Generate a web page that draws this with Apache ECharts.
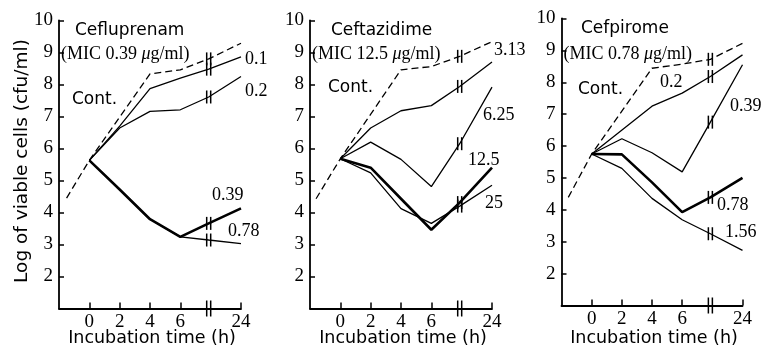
<!DOCTYPE html>
<html>
<head>
<meta charset="utf-8">
<script src="https://cdn.jsdelivr.net/npm/echarts@6/dist/echarts.min.js"></script>
<style>
  html, body { margin: 0; background: #fff; }
  #chart { width: 768px; height: 350px; }
</style>
</head>
<body>
<div id="chart"></div>
<script>
// compressed time axis: 0, 2, 4, 6 h, the axis break, 24 h
const xPos = [0, 2, 4, 6, 7.87, 10];
const tickPos = [0, 2, 4, 6, 10];
const tickText = ['0', '2', '4', '6', '24'];
const breakX = 7.87;

const drugs = ['Cefluprenam', 'Ceftazidime', 'Cefpirome'];
const mics = ['0.39', '12.5', '0.78'];

// control (dashed) curves, first point is before time 0
const contStart = [[-1.5, 4.45], [-1.6, 4.43], [-1.55, 4.39]];
const cefluCont = [5.63, null, 8.33, 8.46, 8.8, 9.29];
const ceftaCont = [5.68, null, 8.46, 8.56, 8.88, 9.34];
const cefpiCont = [5.75, null, 8.44, 8.57, 8.72, 9.22];

// drug concentrations (µg/ml) and log cfu at 0,2,4,6,break,24 h
const cefluConc = ['0.1', '0.2', '0.39', '0.78'];
const cefluVals = [
  [5.63, 6.7, 7.87, 8.2, 8.48, 8.86],
  [5.63, 6.64, 7.16, 7.21, 7.61, 8.25],
  [5.63, 4.72, 3.79, 3.24, 3.66, 4.13],
  [5.63, 4.72, 3.79, 3.24, 3.14, 3.03]
];
const ceftaConc = ['3.13', '6.25', '12.5', '25'];
const ceftaVals = [
  [5.68, 6.64, 7.18, 7.34, 7.94, 8.7],
  [5.68, 6.2, 5.66, 4.81, 6.15, 7.92],
  [5.68, 5.4, 4.43, 3.46, 4.31, 5.4],
  [5.68, 5.24, 4.12, 3.66, 4.2, 4.85]
];
const cefpiConc = ['0.2', '0.39', '0.78', '1.56'];
const cefpiVals = [
  [5.75, null, 7.25, 7.66, 8.18, 8.86],
  [5.75, 6.23, 5.79, 5.19, 6.75, 8.55],
  [5.75, 5.74, 4.86, 3.93, 4.39, 5.0],
  [5.75, 5.3, 4.36, 3.69, 3.25, 2.73]
];
// the concentration drawn with a heavy line in each panel
const thickConc = ['0.39', '12.5', '0.78'];

const panels = [
  { cont: cefluCont, conc: cefluConc, vals: cefluVals },
  { cont: ceftaCont, conc: ceftaConc, vals: ceftaVals },
  { cont: cefpiCont, conc: cefpiConc, vals: cefpiVals }
];

const grids = [
  { left: 59, top: 20.5, width: 182, height: 288 },
  { left: 310, top: 20.5, width: 182, height: 288 },
  { left: 561.5, top: 18.5, width: 181, height: 287 }
];

// where the concentration / Cont. labels sit (px)
const labelPos = [
  [[245, 59], [245, 91], [212, 195], [228, 231], [72, 100]],
  [[494, 50], [483, 115], [468, 160], [485, 203], [328, 88]],
  [[660, 82], [730, 106], [717, 205], [725, 232], [578, 90]]
];

const serif = '"Liberation Serif", serif';
const sans = '"DejaVu Sans", sans-serif';

function toPoints(vals) {
  const pts = [];
  vals.forEach((v, i) => { if (v != null) pts.push([xPos[i], v]); });
  return pts;
}

function breakSeries(gi, points, half) {
  return {
    type: 'custom',
    xAxisIndex: gi,
    yAxisIndex: gi,
    clip: false,
    z: 5,
    silent: true,
    data: points,
    renderItem: (params, api) => {
      const p = api.coord([api.value(0), api.value(1)]);
      return {
        type: 'group',
        children: [-2, 2].map((dx) => ({
          type: 'line',
          shape: { x1: p[0] + dx, y1: p[1] - half, x2: p[0] + dx, y2: p[1] + half },
          style: { stroke: '#000', lineWidth: 1.5 }
        }))
      };
    }
  };
}

const series = [];
const graphic = [];
panels.forEach((pn, gi) => {
  series.push({
    type: 'line', xAxisIndex: gi, yAxisIndex: gi,
    data: [contStart[gi]].concat(toPoints(pn.cont)),
    symbol: 'none', silent: true,
    lineStyle: { color: '#000', width: 1.3, type: [7, 4] }
  });
  pn.vals.forEach((vals, k) => {
    const heavy = pn.conc[k] === thickConc[gi];
    series.push({
      type: 'line', xAxisIndex: gi, yAxisIndex: gi,
      data: toPoints(vals),
      symbol: 'none', silent: true,
      z: heavy ? 3 : 2,
      lineStyle: { color: '#000', width: heavy ? 2.6 : 1.3 }
    });
  });
  // break marks on every curve and on the time axis
  const onCurves = [[breakX, pn.cont[4]]].concat(pn.vals.map((v) => [breakX, v[4]]));
  series.push(breakSeries(gi, onCurves, 6.5));
  series.push(breakSeries(gi, [[breakX, 1]], 8));

  const g = grids[gi];
  graphic.push({
    type: 'text', left: labelPos[gi][4][0] + 3, top: gi === 2 ? 20 : 22,
    style: { text: drugs[gi], font: '17px ' + sans, fill: '#000' }
  });
  graphic.push({
    type: 'text', left: g.left + 2, top: 45,
    style: {
      text: '(MIC ' + mics[gi] + ' {mu|μ}g/ml)',
      font: '18px ' + serif, fill: '#000',
      rich: { mu: { fontStyle: 'italic', fontFamily: serif, fontSize: 18 } }
    }
  });
  pn.conc.forEach((c, k) => {
    const [x, y] = labelPos[gi][k];
    graphic.push({
      type: 'text', x: x, y: y,
      style: { text: c, font: '18px ' + serif, fill: '#000', textVerticalAlign: 'middle' }
    });
  });
  graphic.push({
    type: 'text', x: labelPos[gi][4][0], y: labelPos[gi][4][1],
    style: { text: 'Cont.', font: '17px ' + sans, fill: '#000', textVerticalAlign: 'middle' }
  });
  graphic.push({
    type: 'text', x: g.left + g.width / 2 + 2, y: 338,
    style: {
      text: 'Incubation time (h)', font: '17.5px ' + sans, fill: '#000',
      textAlign: 'center', textVerticalAlign: 'middle'
    }
  });
});

graphic.push({
  type: 'text', x: 22, y: 161, rotation: Math.PI / 2,
  style: {
    text: 'Log of viable cells (cfu/ml)', font: '18.5px ' + sans, fill: '#000',
    textAlign: 'center', textVerticalAlign: 'middle'
  }
});

const chart = echarts.init(document.getElementById('chart'));
chart.setOption({
  backgroundColor: '#fff',
  animation: false,
  grid: grids.map((g) => Object.assign({ outerBoundsMode: 'none', containLabel: false }, g)),
  xAxis: grids.map((g, gi) => ({
    type: 'value', gridIndex: gi, min: -2, max: 10,
    axisLine: { onZero: false, lineStyle: { color: '#000', width: 1.8 } },
    splitLine: { show: false },
    axisTick: { inside: true, length: 6, customValues: tickPos, lineStyle: { color: '#000', width: 1.5 } },
    axisLabel: {
      customValues: tickPos, margin: 4, color: '#000', fontFamily: serif, fontSize: 19,
      formatter: (v) => tickText[tickPos.indexOf(v)]
    }
  })),
  yAxis: grids.map((g, gi) => ({
    type: 'value', gridIndex: gi, min: 1, max: 10, interval: 1,
    axisLine: { show: true, onZero: false, lineStyle: { color: '#000', width: 1.8 } },
    splitLine: { show: false },
    axisTick: { inside: true, length: 5, lineStyle: { color: '#000', width: 1.5 } },
    axisLabel: {
      showMinLabel: false, margin: 6, color: '#000', fontFamily: serif, fontSize: 19
    }
  })),
  series: series,
  graphic: graphic
});
</script>
</body>
</html>
